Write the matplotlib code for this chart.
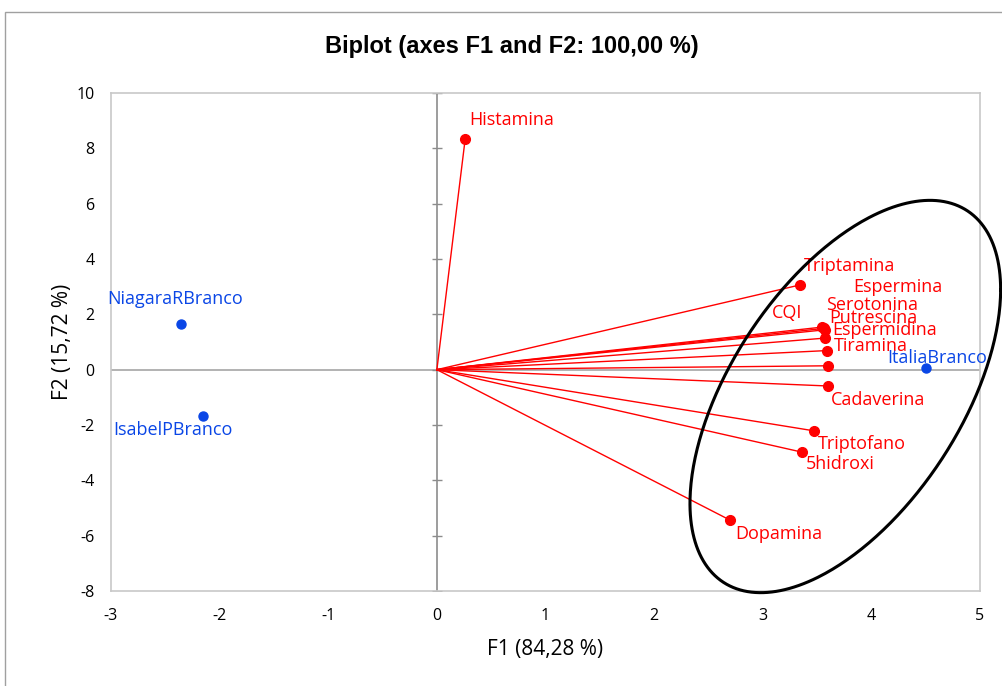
import numpy as np
import matplotlib.pyplot as plt
from matplotlib.patches import Rectangle

# variables (red) - F1 / F2 loadings
var_names = ["Histamina", "Triptamina", "Espermina", "Serotonina", "Putrescina",
             "Espermidina", "Tiramina", "CQI", "Cadaverina", "Triptofano",
             "5hidroxi", "Dopamina"]
var_f1 = [0.26, 3.34, 3.55, 3.56, 3.57, 3.57, 3.59, 3.60, 3.60, 3.47, 3.36, 2.70]
var_f2 = [8.32, 3.06, 1.54, 1.49, 1.44, 1.14, 0.69, 0.14, -0.59, -2.21, -2.98, -5.44]
# label offsets in points (label placement as in the original)
var_off = [(3, 14), (3, 14), (22, 29), (2, 17), (3.5, 8.5), (5.5, 5.5), (5, 3),
           (-40, 38), (2, -10), (3, -9.5), (3, -8.5), (3.5, -10)]

# observations (blue)
obs_names = ["NiagaraRBranco", "IsabelPBranco", "ItaliaBranco"]
obs_f1 = [-2.36, -2.15, 4.50]
obs_f2 = [1.66, -1.68, 0.07]
obs_off = [(-53, 18), (-65, -10), (-28, 7)]

xticks = [-3, -2, -1, 0, 1, 2, 3, 4, 5]
yticks = [-8, -6, -4, -2, 0, 2, 4, 6, 8, 10]

# hand-drawn ellipse around the group
ell_cx, ell_cy, ell_ax, ell_ay, ell_phi = 3.76, -0.97, 1.43, 7.09, np.deg2rad(57)

plt.rcParams['font.family'] = ['Open Sans', 'DejaVu Sans']
plt.rcParams['axes.unicode_minus'] = False
red = '#ff0000'
blue = '#0a46e6'

fig = plt.figure(figsize=(10.03, 6.86), dpi=100)
fig.patches.append(Rectangle((5 / 1003, -0.1), 1.2, 1.1 - 12 / 686,
                             transform=fig.transFigure, fill=False,
                             edgecolor='#a0a0a0', lw=1))
ax = fig.add_axes([111 / 1003, 1 - 591 / 686, 869 / 1003, 498 / 686])

ax.axhline(0, color='#a6a6a6', lw=1.2, zorder=1)
ax.axvline(0, color='#8c8c8c', lw=1.2, zorder=1)
ax.plot([0] * len(yticks), yticks, ls='none', marker='_', ms=7, mew=1,
        color='#8c8c8c', zorder=1)

for x, y, name, off in zip(var_f1, var_f2, var_names, var_off):
    ax.plot([0, x], [0, y], color=red, lw=1, zorder=2)
    ax.annotate(name, (x, y), xytext=off, textcoords='offset points',
                color=red, fontsize=13, va='center', ha='left')
ax.plot(var_f1, var_f2, 'o', color=red, ms=7, zorder=3)

ax.plot(obs_f1, obs_f2, 'o', color=blue, ms=6.5, zorder=3)
for x, y, name, off in zip(obs_f1, obs_f2, obs_names, obs_off):
    ax.annotate(name, (x, y), xytext=off, textcoords='offset points',
                color=blue, fontsize=13, va='center', ha='left')

t = np.linspace(0, 2 * np.pi, 400)
ax.plot(ell_cx + ell_ax * np.cos(t), ell_cy + ell_ay * np.cos(t - ell_phi),
        color='black', lw=2.2, zorder=4, clip_on=False)

ax.set_xlim(-3, 5)
ax.set_ylim(-8, 10)
ax.set_xticks(xticks)
ax.set_yticks(yticks)
ax.tick_params(length=0, labelsize=11.5, pad=12)
for s in ax.spines.values():
    s.set_color('#c8c8c8')
    s.set_linewidth(1.2)

ax.set_xlabel('F1 (84,28 %)', fontsize=15, labelpad=11)
ax.set_ylabel('F2 (15,72 %)', fontsize=15, labelpad=2)
fig.text(512 / 1003, 1 - 47 / 686, 'Biplot (axes F1 and F2: 100,00 %)',
         ha='center', va='center', fontsize=17, fontweight='bold',
         family='Liberation Sans')

fig.savefig('out.png', dpi=100)
